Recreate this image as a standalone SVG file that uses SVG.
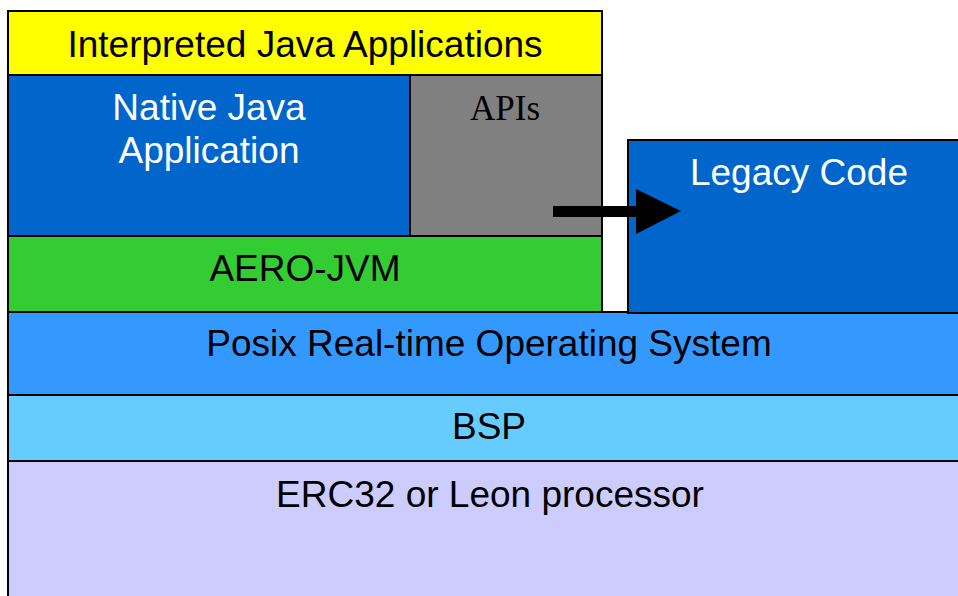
<svg xmlns="http://www.w3.org/2000/svg" width="958" height="596" viewBox="0 0 958 596">
<style>
.box{stroke:#000;stroke-width:2}
.t{font-family:"Liberation Sans",Arial,sans-serif;font-size:37px;text-anchor:middle;fill:#000}
.w{fill:#fff}
.s{font-family:"Liberation Serif","Times New Roman",serif;font-size:35px;text-anchor:middle;fill:#000}
</style>
<rect width="958" height="596" fill="#fff"/>
<g id="erc32">
<rect class="box" x="8" y="461" width="970" height="150" fill="#CCCCFF"/>
<text class="t" x="490" y="507">ERC32 or Leon processor</text>
</g>
<g id="bsp">
<rect class="box" x="8" y="395" width="970" height="66" fill="#66CCFF"/>
<text class="t" x="489" y="439">BSP</text>
</g>
<g id="posix">
<rect class="box" x="8" y="312" width="970" height="83" fill="#3399FF"/>
<text class="t" x="489" y="356">Posix Real-time Operating System</text>
</g>
<g id="legacy">
<rect class="box" x="628" y="140" width="345" height="173" fill="#0066CC"/>
<text class="t w" x="799" y="185">Legacy Code</text>
</g>
<g id="aerojvm">
<rect class="box" x="8" y="236" width="594" height="76" fill="#33CC33"/>
<text class="t" x="305" y="281">AERO-JVM</text>
</g>
<g id="native">
<rect class="box" x="8" y="75" width="402" height="161" fill="#0066CC"/>
<text class="t w" x="209" y="120">Native Java</text>
<text class="t w" x="209" y="163">Application</text>
</g>
<g id="apis">
<rect class="box" x="410" y="75" width="192" height="161" fill="#808080"/>
<text class="s" x="505" y="120">APIs</text>
</g>
<g id="interpreted">
<rect class="box" x="8" y="11" width="594" height="64" fill="#FFFF00"/>
<text class="t" x="305" y="57">Interpreted Java Applications</text>
</g>
<g id="connectors">
<rect x="553" y="206" width="84" height="11" fill="#000"/>
<polygon points="636,189 681,211 636,234" fill="#000"/>
</g>
</svg>
